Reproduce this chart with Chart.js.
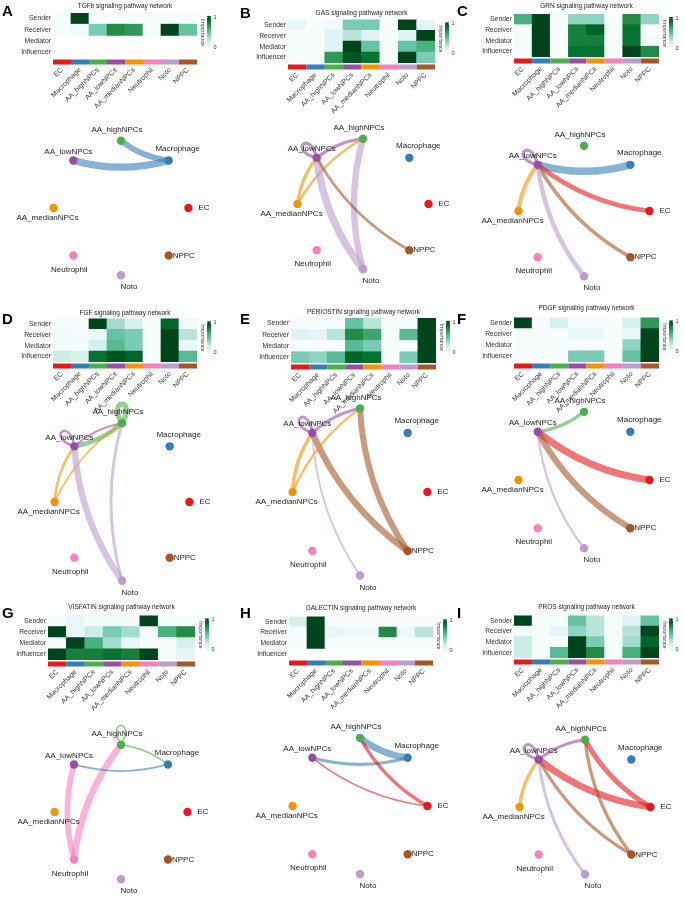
<!DOCTYPE html>
<html><head>
<meta charset="utf-8">
<script src="https://cdn.jsdelivr.net/npm/chart.js@4.4.0/dist/chart.umd.min.js"></script>
<style>
html,body{margin:0;padding:0;background:#fff}
body{width:685px;height:898px;position:relative;overflow:hidden;font-family:"Liberation Sans",Arial,sans-serif}
canvas{position:absolute}
.lt{position:absolute;font:bold 15px "Liberation Sans",Arial,sans-serif;line-height:15px;color:#000}
</style>
</head><body>
<script>
// ---------- DATA ----------
const cellTypes = ['EC','Macrophage','AA_highNPCs','AA_lowNPCs','AA_medianNPCs','Neutrophil','Noto','NPPC'];
const roleNames = ['Sender','Receiver','Mediator','Influencer'];
const cellColors = ['#E41A1C','#377EB8','#4DAF4A','#984EA3','#F29403','#F781BF','#BC9DCC','#A65628'];
const pathwayTitles = ['TGFb','GAS','GRN','FGF','PERIOSTIN','PDGF','VISFATIN','GALECTIN','PROS'];

// heatmap rows: Sender, Receiver, Mediator, Influencer (null = empty row)
const tgfbHeat = [[0,1,0,0,0,0,0,0],[0,0.05,0.45,0.75,0.7,0,1,0.5],null,null];
const gasHeat = [[0.1,0,0.05,0.45,0.45,0,1,0.12],[0,0,0.15,0.3,0.15,0,0.15,1],[0,0,0.15,1,0.5,0,0.5,0.6],[0,0,0.7,0.95,0.85,0,1,0.45]];
const grnHeat = [[0.6,1,0,0.4,0.4,0,0.75,0.4],[0,1,0,0.8,0.9,0,0.85,0],[0,1,0,0.8,0.8,0,0.85,0.03],[0,1,0,0.85,0.85,0,1,0.75]];
const fgfHeat = [[0,0,1,0.35,0.2,0,0.9,0.05],[0.03,0.02,0.08,0.5,0.45,0,1,0.3],[0.02,0.02,0.2,0.55,0.45,0,1,0.1],[0.25,0.2,0.85,0.95,0.9,0,1,0.55]];
const periostinHeat = [[0,0,0,0.5,0.3,0,0,1],[0.15,0.12,0.3,0.75,0.65,0,0.55,1],[0,0,0,0.55,0.45,0,0,1],[0.45,0.4,0.55,0.9,0.85,0,0.45,1]];
const pdgfHeat = [[1,0,0.2,0,0,0,0.2,0.7],[0,0,0,0.1,0.1,0,0.1,1],[0,0,0,0,0,0,0.4,1],[0,0,0,0.45,0.45,0,0.5,1]];
const visfatinHeat = [[0,0.1,0.03,0.03,0.03,1,0,0],[1,0.1,0.25,0.45,0.35,0,0.6,0.75],[0,1,0.6,0.35,0.1,0,0,0.2],[1,0.8,0.8,0.85,0.8,1,0,0.12]];
const galectinHeat = [[0.2,1,0,0,0,0,0,0],[0,1,0.1,0.05,0.05,0.75,0.07,0.3],[0,1,0,0,0,0,0,0],null];
const prosHeat = [[1,0,0,0.5,0.3,0,0.15,0.5],[0.02,0,0.12,0.4,0.3,0,0.3,1],[0.25,0,0,1,0.45,0,0.35,0.9],[0.25,0,0.55,1,0.75,0,0.6,1]];

// network edges: [source, target, relative weight]
const tgfbEdges = [['Macrophage','AA_highNPCs',0.7],['Macrophage','AA_lowNPCs',0.9]];
const gasEdges = [['AA_lowNPCs','AA_lowNPCs',0.35],['AA_lowNPCs','AA_highNPCs',0.35],['AA_medianNPCs','AA_lowNPCs',0.35],['AA_medianNPCs','AA_highNPCs',0.25],['Noto','AA_lowNPCs',0.95],['Noto','AA_highNPCs',0.8],['NPPC','AA_lowNPCs',0.3]];
const grnEdges = [['AA_lowNPCs','AA_lowNPCs',0.35],['Macrophage','AA_lowNPCs',0.95],['EC','AA_lowNPCs',0.55],['NPPC','AA_lowNPCs',0.4],['AA_medianNPCs','AA_lowNPCs',0.45],['Noto','AA_lowNPCs',0.55]];
const fgfEdges = [['AA_highNPCs','AA_highNPCs',0.6],['AA_lowNPCs','AA_lowNPCs',0.25],['AA_highNPCs','AA_lowNPCs',0.55],['AA_lowNPCs','AA_highNPCs',0.2],['AA_medianNPCs','AA_lowNPCs',0.25],['AA_medianNPCs','AA_highNPCs',0.15],['Noto','AA_lowNPCs',0.8],['Noto','AA_highNPCs',0.3]];
const periostinEdges = [['NPPC','AA_lowNPCs',0.8],['NPPC','AA_highNPCs',0.75],['AA_medianNPCs','AA_lowNPCs',0.4],['AA_medianNPCs','AA_highNPCs',0.2],['AA_lowNPCs','AA_lowNPCs',0.3],['AA_lowNPCs','AA_highNPCs',0.3],['Noto','AA_lowNPCs',0.15]];
const pdgfEdges = [['EC','AA_lowNPCs',0.9],['NPPC','AA_lowNPCs',0.75],['AA_highNPCs','AA_lowNPCs',0.35],['Noto','AA_lowNPCs',0.2]];
const visfatinEdges = [['Neutrophil','AA_lowNPCs',0.7],['Neutrophil','AA_highNPCs',0.85],['AA_highNPCs','AA_highNPCs',0.15],['AA_highNPCs','Macrophage',0.15],['Macrophage','AA_lowNPCs',0.15]];
const galectinEdges = [['Macrophage','AA_highNPCs',0.85],['Macrophage','AA_lowNPCs',0.35],['EC','AA_highNPCs',0.35],['EC','AA_lowNPCs',0.12]];
const prosEdges = [['EC','AA_lowNPCs',0.85],['EC','AA_highNPCs',0.6],['NPPC','AA_lowNPCs',0.35],['NPPC','AA_highNPCs',0.35],['AA_lowNPCs','AA_lowNPCs',0.3],['AA_lowNPCs','AA_highNPCs',0.3],['AA_medianNPCs','AA_lowNPCs',0.35],['Noto','AA_lowNPCs',0.3]];

// ---------- STYLE / LAYOUT ----------
const FONT = '"Liberation Sans", Arial, sans-serif';
const bugnStops = ['#f7fcfd','#e5f5f9','#ccece6','#99d8c9','#66c2a4','#41ae76','#238b45','#006d2c','#00441b'];
function hex2rgb(h){return [parseInt(h.slice(1,3),16),parseInt(h.slice(3,5),16),parseInt(h.slice(5,7),16)];}
function bugn(v){
  v=Math.max(0,Math.min(1,v));
  const t=v*(bugnStops.length-1); const i=Math.min(Math.floor(t),bugnStops.length-2); const f=t-i;
  const a=hex2rgb(bugnStops[i]), b=hex2rgb(bugnStops[i+1]);
  return 'rgb('+a.map((c,k)=>Math.round(c+(b[k]-c)*f)).join(',')+')';
}
function rgba(h,a){const c=hex2rgb(h);return 'rgba('+c.join(',')+','+a+')';}

const layouts = [
 {letter:'A', lx:2,  ly:3,   hm:{x0:53, x1:197,y0:13, y1:58, ty:6},   net:{cx:120.5,cy:208,rx:70,ry:70}},
 {letter:'B', lx:240,ly:5,   hm:{x0:288,x1:435,y0:19, y1:63, ty:12.5},net:{cx:363,cy:204,rx:68,ry:68}},
 {letter:'C', lx:457,ly:3,   hm:{x0:514,x1:659,y0:14, y1:57, ty:6},   net:{cx:584,cy:211,rx:68,ry:68}},
 {letter:'D', lx:2,  ly:311, hm:{x0:53, x1:197,y0:318,y1:362,ty:312.5},net:{cx:122,cy:502,rx:70,ry:82}},
 {letter:'E', lx:240,ly:311, hm:{x0:291,x1:436,y0:318,y1:363,ty:312},net:{cx:360,cy:492,rx:70,ry:87}},
 {letter:'F', lx:457,ly:311, hm:{x0:514,x1:659,y0:317,y1:362,ty:307.5},net:{cx:584,cy:480,rx:68,ry:71}},
 {letter:'G', lx:2,  ly:605, hm:{x0:48, x1:195,y0:615,y1:660,ty:606.5},net:{cx:121,cy:812,rx:69,ry:70}},
 {letter:'H', lx:240,ly:605, hm:{x0:289,x1:433,y0:616,y1:659,ty:607.5},net:{cx:360,cy:806,rx:70,ry:71}},
 {letter:'I', lx:457,ly:605, hm:{x0:514,x1:659,y0:615,y1:658,ty:606.5},net:{cx:585,cy:807,rx:68,ry:70}}
];
const heats = [tgfbHeat,gasHeat,grnHeat,fgfHeat,periostinHeat,pdgfHeat,visfatinHeat,galectinHeat,prosHeat];
const edgesAll = [tgfbEdges,gasEdges,grnEdges,fgfEdges,periostinEdges,pdgfEdges,visfatinEdges,galectinEdges,prosEdges];
// node label offsets (px)
const labelOffsets = {EC:[15,0],Macrophage:[9,-12],AA_highNPCs:[-4,-11],AA_lowNPCs:[-5,-9],AA_medianNPCs:[-6,10],Neutrophil:[-4,14],Noto:[8,12],NPPC:[14,0]};

// ---------- PLUGINS ----------
const stripPlugin = {id:'strip', afterDraw(chart){
  const {ctx, chartArea:a} = chart; const xs = chart.scales.x; const w = a.width/cellTypes.length;
  cellTypes.forEach((c,i)=>{ const px = xs.getPixelForValue(i); ctx.fillStyle = cellColors[i]; ctx.fillRect(px-w/2, a.bottom+1.5, w, 5); });
}};
const cbarPlugin = {id:'cbar', afterDraw(chart){
  const {ctx, chartArea:a} = chart; const bx=a.right+10, by=a.top+3, bw=4, bh=33;
  const g = ctx.createLinearGradient(0,by,0,by+bh);
  bugnStops.forEach((c,i)=>g.addColorStop(1-i/(bugnStops.length-1), c));
  ctx.fillStyle=g; ctx.fillRect(bx,by,bw,bh);
  ctx.strokeStyle='#fff'; ctx.lineWidth=0.6;
  [by+1.5, by+bh-1.5].forEach(y=>{ctx.beginPath();ctx.moveTo(bx,y);ctx.lineTo(bx+1,y);ctx.moveTo(bx+bw-1,y);ctx.lineTo(bx+bw,y);ctx.stroke();});
  ctx.fillStyle='#333'; ctx.font='5.5px '+FONT; ctx.textAlign='left'; ctx.textBaseline='middle';
  ctx.fillText('1',bx+bw+2.5,by+1.5); ctx.fillText('0',bx+bw+2.5,by+bh-1.5);
  ctx.save(); ctx.translate(bx-4.5, by+bh/2); ctx.rotate(Math.PI/2); ctx.textAlign='center'; ctx.fillText('Importance',0,0); ctx.restore();
}};
const netPlugin = {id:'net',
  beforeDatasetsDraw(chart, args, opts){
    const ctx = chart.ctx, xs = chart.scales.x, ys = chart.scales.y;
    const pts = chart.data.datasets[0].data.map(p=>[xs.getPixelForValue(p.x), ys.getPixelForValue(p.y)]);
    const c0 = [xs.getPixelForValue(0), ys.getPixelForValue(0)];
    ctx.save(); ctx.lineCap='butt';
    opts.edges.forEach(([s,t,w])=>{
      const si = cellTypes.indexOf(s), ti = cellTypes.indexOf(t);
      const [x0,y0] = pts[si], [x1,y1] = pts[ti];
      ctx.strokeStyle = rgba(cellColors[si], 0.6); ctx.lineWidth = 0.8 + 7*w;
      ctx.beginPath();
      if (si===ti){
        const th = Math.atan2(y0-c0[1], x0-c0[0]); const L = 30;
        ctx.moveTo(x0,y0);
        ctx.bezierCurveTo(x0+L*Math.cos(th+0.55), y0+L*Math.sin(th+0.55), x0+L*Math.cos(th-0.55), y0+L*Math.sin(th-0.55), x0, y0);
      } else {
        const dx = x1-x0, dy = y1-y0, c = 0.14;
        const mx = (x0+x1)/2 + c*dy, my = (y0+y1)/2 - c*dx;
        ctx.moveTo(x0,y0); ctx.quadraticCurveTo(mx,my,x1,y1);
      }
      ctx.stroke();
    });
    ctx.restore();
  },
  afterDatasetsDraw(chart){
    const ctx = chart.ctx, xs = chart.scales.x, ys = chart.scales.y;
    ctx.save(); ctx.fillStyle='#222'; ctx.font='8px '+FONT; ctx.textAlign='center'; ctx.textBaseline='middle';
    chart.data.datasets[0].data.forEach((p,i)=>{
      const o = labelOffsets[cellTypes[i]];
      let x = xs.getPixelForValue(p.x)+o[0], y = ys.getPixelForValue(p.y)+o[1];
      if (cellTypes[i]==='EC' || cellTypes[i]==='NPPC'){ ctx.textAlign='left'; x -= (cellTypes[i]==='EC'?5:10); } else ctx.textAlign='center';
      ctx.fillText(cellTypes[i], x, y);
    });
    ctx.restore();
  }
};

// ---------- BUILD ----------
function addCanvas(w,h){ const c=document.createElement('canvas'); c.width=w; c.height=h; c.style.width=w+'px'; c.style.height=h+'px'; document.body.appendChild(c); return c; }

layouts.forEach((L, k)=>{
  const heat = heats[k]; const hm = L.hm;
  const cellW = hm.x1-hm.x0, cellH = hm.y1-hm.y0;
  const pb = Math.max(0, hm.y0 - hm.ty - 3.9);
  const titleH = 2 + 7.8 + pb;
  const cv = addCanvas(60+cellW+60, Math.round(titleH+cellH+52));
  const datasets = [3,2,1,0].map(r=>({
    label: roleNames[r],
    data: cellTypes.map(()=>1),
    backgroundColor: cellTypes.map((c,i)=> heat[r]===null ? 'rgba(0,0,0,0)' : bugn(heat[r][i])),
    borderWidth: 0, barPercentage: 1, categoryPercentage: 1
  }));
  const ch = new Chart(cv, {
    type:'bar',
    data:{labels:cellTypes, datasets},
    options:{
      responsive:false, animation:false, devicePixelRatio:1,
      layout:{padding:0},
      plugins:{legend:{display:false}, tooltip:{enabled:false},
        title:{display:true, text:pathwayTitles[k]+' signaling pathway network', color:'#222', font:{size:6.5, family:FONT, weight:'normal', lineHeight:1.2}, padding:{top:2,bottom:pb}}},
      scales:{
        x:{stacked:true, grid:{display:false, drawTicks:false}, border:{display:false},
           ticks:{autoSkip:false, maxRotation:45, minRotation:45, color:'#333', font:{size:7, family:FONT}, padding:8},
           afterFit(s){ s.height = 52; }},
        y:{stacked:true, min:0, max:4, grid:{display:false, drawTicks:false}, border:{display:false},
           afterBuildTicks(s){ s.ticks=[0.5,1.5,2.5,3.5].map(v=>({value:v})); },
           ticks:{color:'#333', font:{size:6.8, family:FONT}, padding:2, callback:(v)=>roleNames[3-Math.floor(v)]},
           afterFit(s){ s.width = 60; }},
        yR:{type:'linear', position:'right', display:true, grid:{display:false, drawTicks:false}, border:{display:false},
           ticks:{display:false}, afterFit(s){ s.width = 60; }}
      }
    },
    plugins:[stripPlugin, cbarPlugin]
  });
  cv.style.left = (hm.x0 - ch.chartArea.left)+'px';
  cv.style.top = (hm.y0 - ch.chartArea.top)+'px';

  // network
  const N = L.net; const W = 228, H = 210;
  const nv = addCanvas(W,H);
  nv.style.left = (N.cx - W/2)+'px'; nv.style.top = (N.cy - H/2)+'px';
  const nodes = cellTypes.map((c,i)=>({x:Math.cos(i*Math.PI/4), y:Math.sin(i*Math.PI/4)}));
  new Chart(nv, {
    type:'scatter',
    data:{datasets:[{data:nodes, pointRadius:4.2, pointHoverRadius:4.2, pointBackgroundColor:cellColors, pointBorderWidth:0}]},
    options:{
      responsive:false, animation:false, devicePixelRatio:1,
      layout:{padding:0},
      plugins:{legend:{display:false}, tooltip:{enabled:false}, net:{edges:edgesAll[k]}},
      scales:{x:{display:false, min:-W/2/N.rx, max:W/2/N.rx}, y:{display:false, min:-H/2/N.ry, max:H/2/N.ry}}
    },
    plugins:[netPlugin]
  });

  const d = document.createElement('div'); d.className='lt'; d.textContent=L.letter; d.style.left=L.lx+'px'; d.style.top=L.ly+'px';
  document.body.appendChild(d);
});
</script>
</body></html>
